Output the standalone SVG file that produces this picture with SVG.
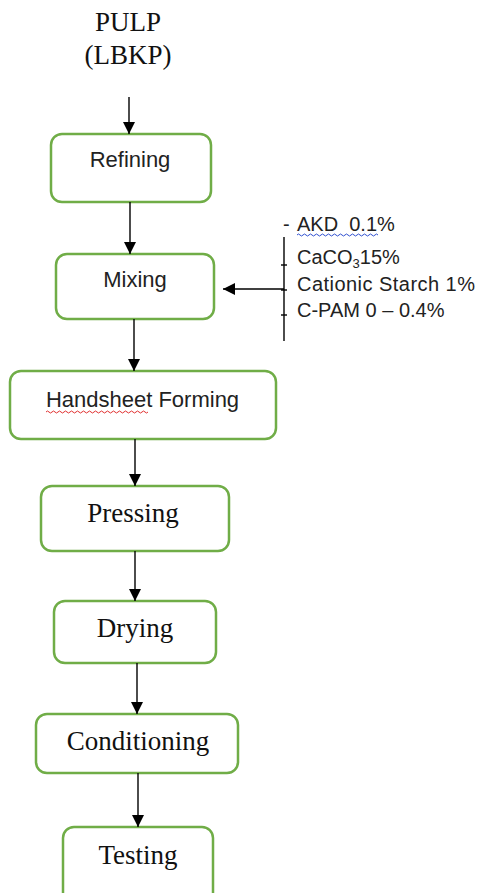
<svg xmlns="http://www.w3.org/2000/svg" width="478" height="893" viewBox="0 0 478 893">
<style>
.box{fill:#fff;stroke:#70AD47;stroke-width:2.5}
.sans{font-family:"Liberation Sans",Arial,sans-serif;font-size:22px;fill:#222}
.serif{font-family:"Liberation Serif","Times New Roman",serif;font-size:27px;fill:#111}
.lbl{font-family:"Liberation Sans",Arial,sans-serif;font-size:20px;fill:#222}
.con{stroke:#000;stroke-width:1.4;fill:none}
</style>
<defs>
<marker id="ah" markerUnits="userSpaceOnUse" markerWidth="12" markerHeight="12" refX="12" refY="6" orient="auto">
<path d="M0,0 L12,6 L0,12 z" fill="#000"/>
</marker>
</defs>
<rect width="478" height="893" fill="#fff"/>
<g id="pulp">
<text class="serif" x="128" y="31" text-anchor="middle" font-size="25">PULP</text>
<text class="serif" x="128" y="64" text-anchor="middle" font-size="25">(LBKP)</text>
</g>
<g id="refining"><rect class="box" x="51" y="134" width="160" height="68" rx="11"/><text class="sans" x="130" y="167" text-anchor="middle">Refining</text></g>
<g id="mixing"><rect class="box" x="56" y="254" width="158" height="65" rx="11"/><text class="sans" x="135" y="287" text-anchor="middle">Mixing</text></g>
<g id="handsheet"><rect class="box" x="10" y="371" width="266" height="68" rx="11"/><text class="sans" x="142.5" y="407" text-anchor="middle">Handsheet Forming</text>
<path d="M46,412 q1.5,-2 3,0 t3,0 t3,0 t3,0 t3,0 t3,0 t3,0 t3,0 t3,0 t3,0 t3,0 t3,0 t3,0 t3,0 t3,0 t3,0 t3,0 t3,0 t3,0 t3,0 t3,0 t3,0 t3,0 t3,0 t3,0 t3,0 t3,0 t3,0 t3,0 t3,0 t3,0 t3,0 t3,0 t3,0" fill="none" stroke="#e03030" stroke-width="1"/></g>
<g id="pressing"><rect class="box" x="41" y="486" width="188" height="65" rx="11"/><text class="serif" x="133" y="522" text-anchor="middle">Pressing</text></g>
<g id="drying"><rect class="box" x="54" y="601" width="162" height="62" rx="11"/><text class="serif" x="135" y="637" text-anchor="middle">Drying</text></g>
<g id="conditioning"><rect class="box" x="36" y="714" width="202" height="59" rx="11"/><text class="serif" x="138" y="750" text-anchor="middle">Conditioning</text></g>
<g id="testing"><rect class="box" x="63" y="827" width="150" height="80" rx="11"/><text class="serif" x="138" y="864" text-anchor="middle">Testing</text></g>
<g id="additives">
<line class="con" x1="284" y1="237" x2="284" y2="341"/>
<line class="con" x1="281" y1="265" x2="287" y2="265"/>
<line class="con" x1="281" y1="290" x2="287" y2="290"/>
<line class="con" x1="281" y1="315" x2="287" y2="315"/>
<text class="lbl" x="283" y="231" xml:space="preserve">-<tspan x="297">AKD  0.1%</tspan></text>
<path d="M297,235 q1.5,-2 3,0 t3,0 t3,0 t3,0 t3,0 t3,0 t3,0 t3,0 t3,0 t3,0 t3,0 t3,0 t3,0 t3,0 t3,0 t3,0 t3,0 t3,0 t3,0 t3,0 t3,0 t3,0 t3,0 t3,0 t3,0 t3,0 t3,0" fill="none" stroke="#3050d0" stroke-width="1"/>
<text class="lbl" x="297" y="264">CaCO<tspan font-size="13" dy="4">3</tspan><tspan dy="-4">15%</tspan></text>
<text class="lbl" x="297" y="291" textLength="178">Cationic Starch 1%</text>
<text class="lbl" x="297" y="317">C-PAM 0 – 0.4%</text>
</g>
<g id="connectors">
<line class="con" x1="129" y1="97" x2="129" y2="134" marker-end="url(#ah)"/>
<line class="con" x1="130" y1="202" x2="130" y2="254" marker-end="url(#ah)"/>
<line class="con" x1="134" y1="319" x2="134" y2="371" marker-end="url(#ah)"/>
<line class="con" x1="135" y1="439" x2="135" y2="486" marker-end="url(#ah)"/>
<line class="con" x1="135" y1="551" x2="135" y2="601" marker-end="url(#ah)"/>
<line class="con" x1="137" y1="663" x2="137" y2="714" marker-end="url(#ah)"/>
<line class="con" x1="138" y1="773" x2="138" y2="827" marker-end="url(#ah)"/>
<line class="con" x1="284" y1="289" x2="223" y2="289" marker-end="url(#ah)"/>
</g>
</svg>
